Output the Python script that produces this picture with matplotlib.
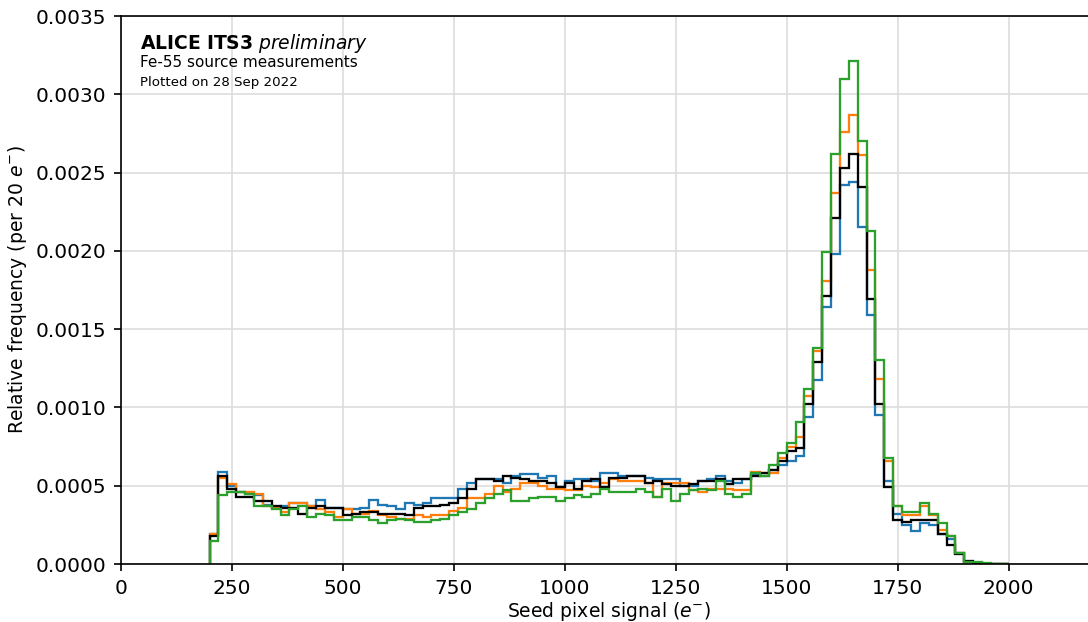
import numpy as np
import matplotlib
matplotlib.use("Agg")
import matplotlib.pyplot as plt

# Fe-55 seed pixel spectra, 20 e- bins starting at 200 e-
bin_start = 200
bin_width = 20

blue = [0.00019, 0.000585, 0.0005, 0.00046, 0.00045, 0.00044, 0.00038, 0.00036, 0.00037, 0.00039,
        0.00039, 0.00037, 0.00041, 0.00036, 0.00036, 0.00035, 0.00035, 0.00036, 0.00041, 0.00038,
        0.00037, 0.00035, 0.00039, 0.00038, 0.00039, 0.00042, 0.00042, 0.00042, 0.00048, 0.00052,
        0.00054, 0.00054, 0.00054, 0.00052, 0.00056, 0.000575, 0.000575, 0.00055, 0.00056, 0.00049,
        0.00053, 0.00054, 0.00054, 0.00053, 0.00058, 0.00058, 0.00056, 0.00056, 0.00056, 0.00055,
        0.00054, 0.00054, 0.00054, 0.0005, 0.0005, 0.00053, 0.00054, 0.00056, 0.00053, 0.00052,
        0.00054, 0.00057, 0.00056, 0.0006, 0.00063, 0.00066, 0.00069, 0.00094, 0.001175, 0.00164,
        0.00198, 0.00242, 0.00244, 0.00215, 0.00159, 0.00095, 0.00053, 0.00032, 0.00025, 0.00021,
        0.00026, 0.00025, 0.00019, 0.00016, 0.00007, 0.000015, 0.000008, 0.000003, 0.000001, 0.0]

orange = [0.00019, 0.00055, 0.00051, 0.00046, 0.00046, 0.00045, 0.00037, 0.00036, 0.00033, 0.00039,
          0.00039, 0.00037, 0.00035, 0.00033, 0.0003, 0.00035, 0.00032, 0.00032, 0.00034, 0.00031,
          0.0003, 0.00029, 0.00029, 0.00031, 0.0003, 0.00031, 0.00031, 0.00034, 0.00036, 0.00042,
          0.00042, 0.00045, 0.0005, 0.00046, 0.00048, 0.00052, 0.00052, 0.0005, 0.00048, 0.00048,
          0.00047, 0.00047, 0.0005, 0.00049, 0.00052, 0.00054, 0.00053, 0.00053, 0.00053, 0.00052,
          0.00043, 0.00052, 0.00052, 0.00052, 0.00047, 0.00046, 0.00048, 0.00048, 0.00048, 0.00047,
          0.00047, 0.00059, 0.00058, 0.00058, 0.00068, 0.00075, 0.00081, 0.00107, 0.00136, 0.00181,
          0.00237, 0.00276, 0.00287, 0.00261, 0.00188, 0.00118, 0.00066, 0.00037, 0.00031, 0.00031,
          0.00037, 0.00031, 0.00022, 0.00018, 0.00007, 0.000015, 0.000008, 0.000003, 0.000001, 0.0]

green = [0.00015, 0.00044, 0.00046, 0.00046, 0.00045, 0.00037, 0.00037, 0.00035, 0.00031, 0.00035,
         0.00037, 0.0003, 0.00032, 0.00031, 0.00028, 0.00028, 0.0003, 0.0003, 0.00028, 0.00026,
         0.00028, 0.00029, 0.00028, 0.00027, 0.00027, 0.00028, 0.00029, 0.00031, 0.00033, 0.00035,
         0.00039, 0.00042, 0.00045, 0.00047, 0.0004, 0.0004, 0.00042, 0.00043, 0.00043, 0.0004,
         0.00042, 0.00044, 0.00043, 0.00045, 0.00048, 0.00046, 0.00046, 0.00046, 0.00048, 0.00046,
         0.00043, 0.00048, 0.0004, 0.00045, 0.00047, 0.00048, 0.00047, 0.00053, 0.00045, 0.00043,
         0.00045, 0.00058, 0.00056, 0.00063, 0.00071, 0.00077, 0.00091, 0.00112, 0.001377, 0.00199,
         0.00262, 0.0031, 0.00321, 0.0027, 0.00213, 0.0013, 0.00068, 0.00037, 0.00033, 0.00033,
         0.00039, 0.00032, 0.00026, 0.00018, 0.00007, 0.000015, 0.00001, 0.000005, 0.000002, 0.000001]

black = [0.00018, 0.000565, 0.00048, 0.00043, 0.00043, 0.0004, 0.0004, 0.00037, 0.00036, 0.00036,
         0.00032, 0.00036, 0.00037, 0.00036, 0.00036, 0.00031, 0.00032, 0.00033, 0.00033, 0.00032,
         0.00032, 0.00032, 0.00031, 0.00036, 0.00037, 0.00037, 0.00038, 0.00039, 0.00042, 0.00048,
         0.00054, 0.00054, 0.00053, 0.00056, 0.00055, 0.00054, 0.00053, 0.00053, 0.00052, 0.00049,
         0.00052, 0.00048, 0.00053, 0.00054, 0.00049, 0.00055, 0.00055, 0.00056, 0.00056, 0.00052,
         0.00053, 0.00051, 0.0005, 0.0005, 0.00051, 0.00053, 0.00053, 0.00054, 0.00051, 0.00054,
         0.00054, 0.00056, 0.00058, 0.0006, 0.00066, 0.00072, 0.00074, 0.00102, 0.00129, 0.00171,
         0.00221, 0.00253, 0.00262, 0.00241, 0.00169, 0.00102, 0.00049, 0.00028, 0.00027, 0.00028,
         0.00028, 0.00028, 0.00019, 0.00012, 0.000065, 0.00002, 0.000008, 0.000003, 0.000001, 0.0]

series = [(blue, "#1f77b4"), (orange, "#ff7f0e"), (black, "black"), (green, "#2ca02c")]

edges = bin_start + bin_width * np.arange(len(blue) + 1)

fig = plt.figure(figsize=(1088 / 150, 622 / 150), dpi=150)
ax = fig.add_axes([120.7 / 1088, 58 / 622, (1097.5 - 120.7) / 1088, 548 / 622])

for vals, col in series:
    ax.stairs(vals, edges, color=col, lw=1.1, baseline=0)

ax.set_xlim(0, 2200)
ax.set_ylim(0, 0.0035)
ax.set_xticks(np.arange(0, 2001, 250))
ax.set_yticks(np.arange(0, 0.00351, 0.0005))
ax.yaxis.set_major_formatter(matplotlib.ticker.FormatStrFormatter('%.4f'))
ax.tick_params(labelsize=9.7)
ax.grid(True, color='#dddddd', lw=0.8)
ax.set_axisbelow(True)

ax.set_xlabel(r"Seed pixel signal ($e^{-}$)", fontsize=9, labelpad=1)
ax.set_ylabel(r"Relative frequency (per 20 $e^{-}$)", fontsize=9, labelpad=3)

# label block in the top-left corner
ax.text(0.02, 0.97, r"$\bf{ALICE\ ITS3}$ $\it{preliminary}$", transform=ax.transAxes,
        fontsize=9, va='top', ha='left')
ax.text(0.02, 0.928, "Fe-55 source measurements", transform=ax.transAxes,
        fontsize=7.3, va='top', ha='left')
ax.text(0.02, 0.89, "Plotted on 28 Sep 2022", transform=ax.transAxes,
        fontsize=6.4, va='top', ha='left')

fig.savefig("out.png", dpi=150)
